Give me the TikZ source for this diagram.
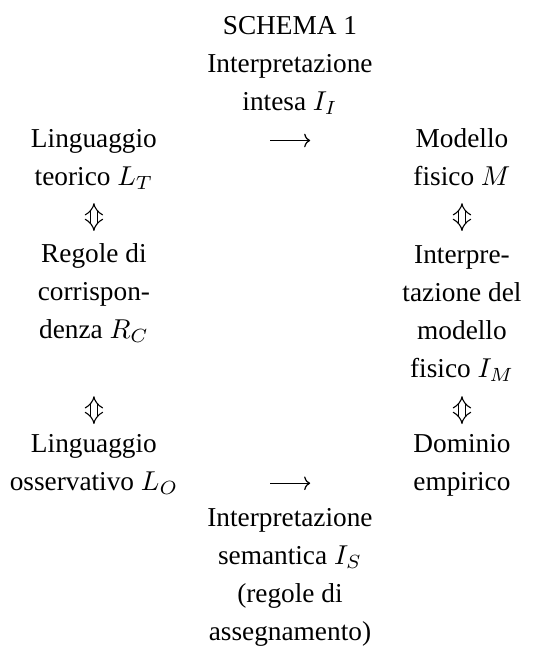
\documentclass[tikz,border=0pt]{standalone}
\usepackage{fontspec}
\setmainfont{Liberation Serif}
\usetikzlibrary{positioning,arrows.meta}
\tikzstyle{Blocco}=[align=center, inner sep=0pt, anchor=base, font=\fontsize{10pt}{13.85pt}\selectfont]
\tikzstyle{Flecha}=[-{To[length=2.2pt,width=5pt]}, line width=0.45pt]
\tikzstyle{Doppia}=[{Implies}-{Implies}, double, double distance=2pt, line width=0.4pt]

\begin{document}
\begin{tikzpicture}
			\useasboundingbox (0pt,0pt) rectangle (204pt,-236.6pt);
			%Nodi
			\node[Blocco]	(titolo)	at (106.2pt,-40.3pt)			{SCHEMA 1\\Interpretazione\\intesa $I_I$};
			\node[Blocco]	(teorico)	at (34.4pt,-67.8pt)			{Linguaggio\\teorico $L_T$};
			\node[Blocco]	(modello)	[right=134.8pt of teorico.base, Blocco]	{Modello\\fisico $M$};

			\node[Blocco]	(regole)	[below=56pt of teorico.base, Blocco]	{Regole di\\corrispon-\\denza $R_C$};
			\node[Blocco]	(interpr)	[below=70.3pt of modello.base, Blocco]	{Interpre-\\tazione del\\modello\\fisico $I_M$};

			\node[Blocco]	(osserv)	[below=55.7pt of regole.base, Blocco]	{Linguaggio\\osservativo $L_O$};
			\node[Blocco]	(dominio)	[right=134.8pt of osserv.base, Blocco]	{Dominio\\empirico};
			\node[Blocco]	(semant)	[below=194.1pt of titolo.base, Blocco]	{Interpretazione\\semantica $I_S$\\(regole di\\assegnamento)};

			%Frecce
			\draw[Flecha, shorten <=64.5pt, shorten >=55.6pt] ([yshift=16.35pt]teorico.base) -- ([yshift=16.35pt]modello.base);
			\draw[Flecha, shorten <=64.5pt, shorten >=55.6pt] ([yshift=2.5pt]osserv.base) -- ([yshift=2.5pt]dominio.base);
			\draw[Doppia, shorten <=6.6pt, shorten >=39.2pt] (teorico.base) -- (regole.base);
			\draw[Doppia, shorten <=6.6pt, shorten >=53.5pt] (modello.base) -- (interpr.base);
			\draw[Doppia, shorten <=21.3pt, shorten >=24.2pt] (regole.base) -- (osserv.base);
			\draw[Doppia, shorten <=7pt, shorten >=24.2pt] (interpr.base) -- (dominio.base);
		\end{tikzpicture}
\end{document}
